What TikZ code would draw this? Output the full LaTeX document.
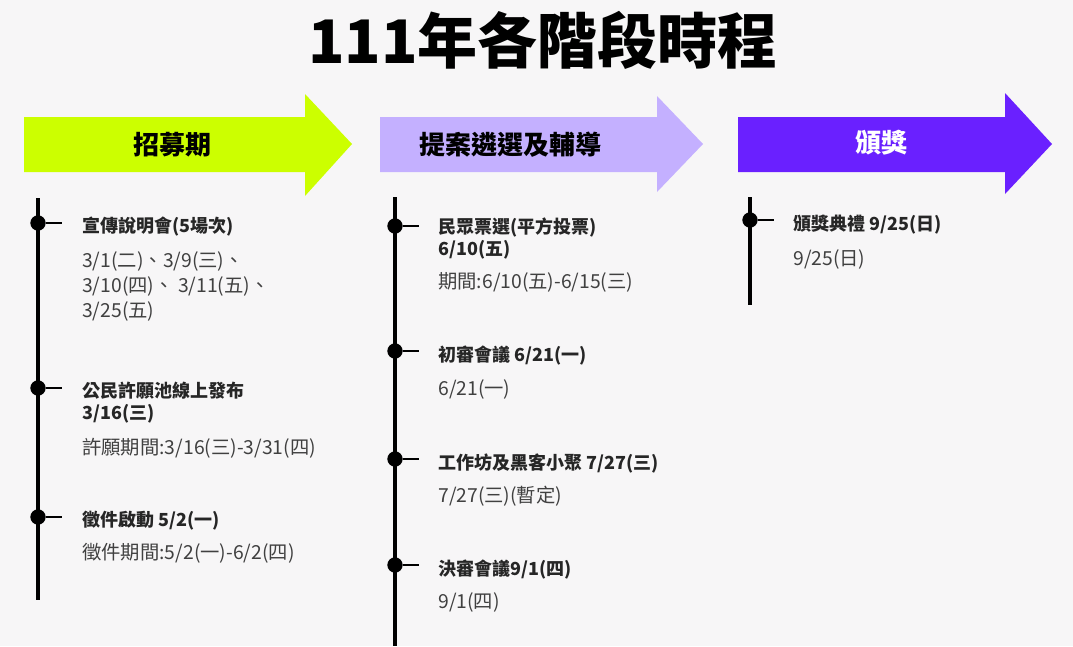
\documentclass[tikz,border=0pt]{standalone}
\usepackage{fontspec}
\setmainfont{Noto Sans CJK TC}
\definecolor{bgc}{RGB}{247,246,247}
\definecolor{c1}{RGB}{204,255,0}
\definecolor{c2}{RGB}{196,176,255}
\definecolor{c3}{RGB}{106,32,255}
\begin{document}
\begin{tikzpicture}[x=0.75pt,y=-0.75pt,
  vline/.style={line width=3pt},
  dot/.style={circle,fill=black,inner sep=0pt,minimum size=11.5pt},
  hd/.style={anchor=north west,font=\fontsize{13.5pt}{16.5pt}\selectfont\bfseries,align=left,inner sep=0pt,text=black!85},
  sub/.style={anchor=north west,font=\fontsize{14.5pt}{19pt}\selectfont,align=left,inner sep=0pt,text=black!75},
  lab/.style={font=\fontsize{19.5pt}{22pt}\selectfont\bfseries}]
\fill[bgc] (0,0) rectangle (1073,646);
\useasboundingbox (0,0) rectangle (1073,646);
\node[font=\fontsize{45pt}{50pt}\selectfont\bfseries] (title) at (543,40) {111年各階段時程};
% arrows
\fill[c1] (24,117) -- (305,117) -- (305,94) -- (352,144) -- (305,196) -- (305,172) -- (24,172) -- cycle;
\fill[c2] (380,117) -- (657,117) -- (657,96) -- (703,144) -- (657,192) -- (657,172) -- (380,172) -- cycle;
\fill[c3] (738,117) -- (1005,117) -- (1005,93) -- (1052,144) -- (1005,194) -- (1005,172) -- (738,172) -- cycle;
\node[lab] (a1) at (172,145) {招募期};
\node[lab] (a2) at (510,145) {提案遴選及輔導};
\node[lab,text=white] (a3) at (881,143) {頒獎};
% timelines
\coordinate (t1a) at (38,198); \coordinate (t1b) at (38,600);
\coordinate (t2a) at (395,197); \coordinate (t2b) at (395,646);
\coordinate (t3a) at (750,197); \coordinate (t3b) at (750,305);
\draw[vline] (t1a) -- (t1b);
\draw[vline] (t2a) -- (t2b);
\draw[vline] (t3a) -- (t3b);
\foreach \n/\x/\y in {d11/38/223,d12/38/388,d13/38/517,d21/395/226,d22/395/351,d23/395/459,d24/395/565,d31/750/220}{
  \node[dot] (\n) at (\x,\y) {};
  \coordinate (\n e) at (\x+24,\y);
  \draw[line width=0.8pt] (\n) -- (\n e);
}
% column 1
\node[hd] (h11) at (82,217) {宣傳說明會(5場次)};
\node[sub] (s11) at (82,251) {3/1(二)、3/9(三)、\\3/10(四)、 3/11(五)、\\3/25(五)};
\node[hd] (h12) at (82,382) {公民許願池線上發布\\3/16(三)};
\node[sub] (s12) at (82,438) {許願期間:3/16(三)-3/31(四)};
\node[hd] (h13) at (82,511) {徵件啟動 5/2(一)};
\node[sub] (s13) at (82,543) {徵件期間:5/2(一)-6/2(四)};
% column 2
\node[hd] (h21) at (438,218) {民眾票選(平方投票)\\6/10(五)};
\node[sub] (s21) at (438,272) {期間:6/10(五)-6/15(三)};
\node[hd] (h22) at (438,346) {初審會議 6/21(一)};
\node[sub] (s22) at (438,379) {6/21(一)};
\node[hd] (h23) at (438,454) {工作坊及黑客小聚 7/27(三)};
\node[sub] (s23) at (438,486) {7/27(三)(暫定)};
\node[hd] (h24) at (438,560) {決審會議9/1(四)};
\node[sub] (s24) at (438,592) {9/1(四)};
% column 3
\node[hd] (h31) at (793,215) {頒獎典禮 9/25(日)};
\node[sub] (s31) at (793,249) {9/25(日)};
\end{tikzpicture}
\end{document}
